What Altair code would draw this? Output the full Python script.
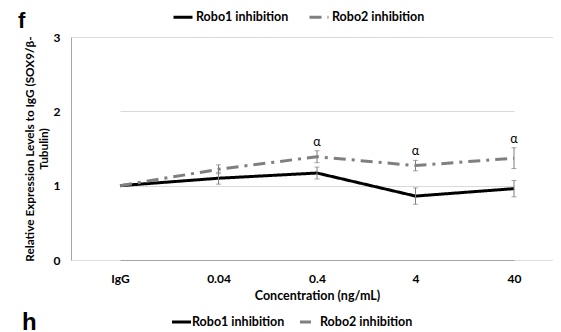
import altair as alt
import pandas as pd

concentrations = ["IgG", "0.04", "0.4", "4", "40"]
series_names = ["Robo1 inhibition", "Robo2 inhibition"]
robo1_values = [1.00, 1.10, 1.17, 0.86, 0.96]
robo1_errors = [0.00, 0.08, 0.08, 0.11, 0.11]
robo2_values = [1.00, 1.22, 1.39, 1.27, 1.37]
robo2_errors = [0.00, 0.06, 0.08, 0.07, 0.14]
robo2_marks = ["", "", "α", "α", "α"]

rows = []
for name, vals, errs, marks in [
    (series_names[0], robo1_values, robo1_errors, [""] * 5),
    (series_names[1], robo2_values, robo2_errors, robo2_marks),
]:
    for c, v, e, m in zip(concentrations, vals, errs, marks):
        rows.append({"conc": c, "series": name, "value": v, "lo": v - e, "hi": v + e, "mark": m})
df = pd.DataFrame(rows)

FONT = "Lato"
GREY = "#7f7f7f"
x_scale = alt.Scale(type="point", range=[49, 443], padding=0)

x_enc = alt.X("conc:O", sort=concentrations, scale=x_scale,
              axis=alt.Axis(title="Concentration (ng/mL)", labelAngle=0, ticks=False,
                            domainColor="#a6a6a6", labelPadding=13, titlePadding=5,
                            labelFontWeight="bold", titleFontWeight="bold",
                            labelFontSize=12, titleFontSize=12.5, labelColor="#000", titleColor="#000",
                            labelFont=FONT, titleFont=FONT))
x_plain = alt.X("conc:O", sort=concentrations, scale=x_scale)
y_scale = alt.Scale(domain=[0, 3])

base = alt.Chart(df)

legend_cfg = dict(title=None, orient="none", direction="horizontal",
                  legendX=101, legendY=-31, symbolType="stroke",
                  symbolStrokeWidth=3, symbolSize=361, labelFont=FONT,
                  labelFontSize=12.5, labelFontWeight="bold", labelColor="#000",
                  columnPadding=14, labelOffset=2)

lines = base.mark_line(strokeWidth=3).encode(
    x=x_enc,
    y=alt.Y("value:Q", scale=y_scale,
            axis=alt.Axis(title=["Relative Expression Levels to IgG (SOX9/β-", "Tubulin)"],
                          values=[0, 1, 2, 3], format="d", ticks=False, domainColor="#a6a6a6",
                          gridColor="#d9d9d9", labelPadding=11, titlePadding=4,
                          labelFontWeight="bold", titleFontWeight="bold",
                          labelFontSize=12, titleFontSize=11.8, labelColor="#000", titleColor="#000",
                          labelFont=FONT, titleFont=FONT)),
    color=alt.Color("series:N", scale=alt.Scale(domain=series_names, range=["#000000", GREY]),
                    legend=alt.Legend(**legend_cfg)),
    strokeDash=alt.StrokeDash("series:N", scale=alt.Scale(domain=series_names,
                                                          range=[[1, 0], [12, 6, 3, 6]]),
                              legend=alt.Legend(**legend_cfg)),
)

has_err = alt.datum.hi > alt.datum.lo

err_rules = base.transform_filter(has_err).mark_rule(color=GREY, strokeWidth=1).encode(
    x=x_plain, y="lo:Q", y2="hi:Q")
cap_lo = base.transform_filter(has_err).mark_tick(color=GREY, thickness=1, size=5, orient="horizontal").encode(
    x=x_plain, y="lo:Q")
cap_hi = base.transform_filter(has_err).mark_tick(color=GREY, thickness=1, size=5, orient="horizontal").encode(
    x=x_plain, y="hi:Q")

labels = base.transform_filter(alt.datum.mark != "").mark_text(
    dy=-9, fontSize=12.5, font=FONT, color="#000", baseline="middle").encode(
    x=x_plain, y="hi:Q", text="mark:N")

panel_f = alt.Chart(pd.DataFrame({"t": ["f"]})).mark_text(
    font="Liberation Sans", fontWeight="bold", fontSize=22, align="left", baseline="alphabetic").encode(
    x=alt.value(-53), y=alt.value(-9), text="t:N")
panel_h = alt.Chart(pd.DataFrame({"t": ["h"]})).mark_text(
    font="Liberation Sans", fontWeight="bold", fontSize=24, align="left", baseline="alphabetic").encode(
    x=alt.value(-49), y=alt.value(293), text="t:N")
legend2_text = alt.Chart(pd.DataFrame({"t": [series_names[0], series_names[1]], "px": [121, 249]})).mark_text(
    font=FONT, fontWeight="bold", fontSize=12.5, align="left", baseline="middle").encode(
    x=alt.X("px:Q", scale=None), y=alt.value(285), text="t:N")
legend2_line1 = alt.Chart(pd.DataFrame({"a": [0]})).mark_rule(color="#000", strokeWidth=3).encode(
    x=alt.value(101), x2=alt.value(120), y=alt.value(285))
legend2_line2 = alt.Chart(pd.DataFrame({"a": [0]})).mark_rule(color=GREY, strokeWidth=3).encode(
    x=alt.value(229), x2=alt.value(240), y=alt.value(285))

chart = alt.layer(lines, err_rules, cap_lo, cap_hi, labels, panel_f, panel_h,
                  legend2_text, legend2_line1, legend2_line2).resolve_scale(
    x="shared", y="shared").properties(
    width=482, height=223,
    autosize=alt.AutoSizeParams(type="none"),
    padding={"left": 63, "top": 29, "right": 0, "bottom": 90},
).configure_view(stroke=None).configure(background="white")

chart.save("out.html", embed_options={"renderer": "svg", "actions": False})
